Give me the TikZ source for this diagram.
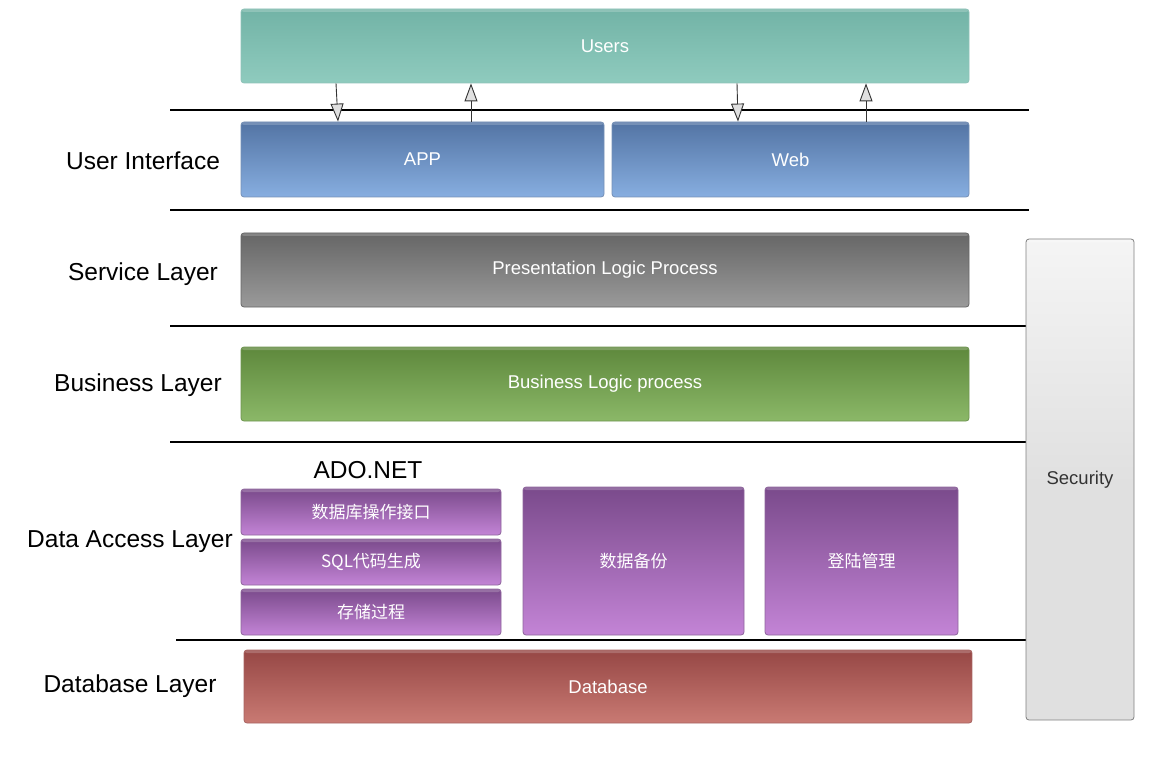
\documentclass[tikz,border=0pt]{standalone}
\usepackage{fontspec}
\setmainfont{Liberation Sans}
\newfontfamily\cjk{Noto Sans CJK SC}
\usetikzlibrary{arrows.meta}

\definecolor{tealtop}{HTML}{72B3A6}
\definecolor{tealbot}{HTML}{8FCBBE}
\definecolor{bluetop}{HTML}{5374A4}
\definecolor{bluebot}{HTML}{87AEE0}
\definecolor{graytop}{HTML}{666666}
\definecolor{graybot}{HTML}{9A9A9A}
\definecolor{greentop}{HTML}{5E883C}
\definecolor{greenbot}{HTML}{8BB868}
\definecolor{purptop}{HTML}{7A4A8B}
\definecolor{purpbot}{HTML}{C384D6}
\definecolor{redtop}{HTML}{964745}
\definecolor{redbot}{HTML}{C97A73}

\begin{document}
\begin{tikzpicture}[
        x=1pt, y=-1pt,
        box/.style={
            rounded corners=3pt,
            inner sep=0pt,
            line width=0.8pt,
            text=white,
            font=\fontsize{18.5}{22}\selectfont,
            path picture={
                \fill[white, opacity=0.2]
                    (path picture bounding box.north west)
                    rectangle ([yshift=-3pt]path picture bounding box.north east);
            },
        },
        users/.style={box, top color=tealtop, bottom color=tealbot, draw=tealtop!80!white},
        ui/.style={box, top color=bluetop, bottom color=bluebot, draw=bluetop!80!white},
        service/.style={box, top color=graytop, bottom color=graybot, draw=graytop},
        business/.style={box, top color=greentop, bottom color=greenbot, draw=greentop!90!white},
        dal/.style={box, top color=purptop, bottom color=purpbot, draw=purptop!85!white, font=\cjk\fontsize{17}{20}\selectfont},
        dbase/.style={box, top color=redtop, bottom color=redbot, draw=redtop!85!white},
        layer/.style={font=\fontsize{24.5}{28}\selectfont, text=black},
        sep/.style={draw=black, line width=1.1pt},
        flow/.style={
            draw=black!80,
            line width=0.9pt,
            -{Triangle[length=18pt, width=13pt, fill=black!12]},
        },
    ]
    \useasboundingbox (0,0) rectangle (1155,783);

    % layer separators
    \draw[sep] (170,110) -- (1029,110);
    \draw[sep] (170,210) -- (1029,210);
    \draw[sep] (170,326) -- (1026,326);
    \draw[sep] (170,442) -- (1026,442);
    \draw[sep] (176,640) -- (1026,640);

    % layer names
    \node[layer] (lui)  at (143,161) {User Interface};
    \node[layer] (lsvc) at (143,274) {Service Layer};
    \node[layer] (lbiz) at (138,385) {Business Layer};
    \node[layer] (ldal) at (130,542) {Data Access Layer};
    \node[layer] (ldb)  at (130,686) {Database Layer};

    % boxes
    \node[users, minimum width=728pt, minimum height=74pt] (users) at (605,46) {Users};
    \node[ui, minimum width=363pt, minimum height=75pt] (app) at (422.5,159.5) {APP};
    \node[ui, minimum width=357pt, minimum height=75pt] (web) at (790.5,159.5) {Web};
    \node[service, minimum width=728pt, minimum height=74pt] (present) at (605,270) {Presentation Logic Process};
    \node[business, minimum width=728pt, minimum height=74pt] (logic) at (605,384) {Business Logic process};

    \node[layer] (ado) at (368,470) {ADO.NET};
    \node[dal, minimum width=260pt, minimum height=46pt] (dbapi) at (371,512) {数据库操作接口};
    \node[dal, minimum width=260pt, minimum height=46pt] (sqlgen) at (371,562) {SQL代码生成};
    \node[dal, minimum width=260pt, minimum height=46pt] (proc) at (371,612) {存储过程};
    \node[dal, minimum width=221pt, minimum height=148pt] (backup) at (633.5,561) {数据备份};
    \node[dal, minimum width=193pt, minimum height=148pt] (login) at (861.5,561) {登陆管理};

    \node[dbase, minimum width=728pt, minimum height=73pt] (db) at (608,686.5) {Database};

    \node[box, top color=white!96!black, bottom color=white!88!black, middle color=white!88!black,
          draw=black!50, text=black!80, minimum width=108pt, minimum height=481pt] (security) at (1080,479.5) {Security};

    % requests and replies
    \draw[flow] (users.south -| 336,0) -- (app.north -| 338,0);
    \draw[flow] (app.north -| 471,0) -- (users.south -| 471,0);
    \draw[flow] (users.south -| 737,0) -- (web.north -| 738,0);
    \draw[flow] (web.north -| 866,0) -- (users.south -| 866,0);
\end{tikzpicture}
\end{document}
